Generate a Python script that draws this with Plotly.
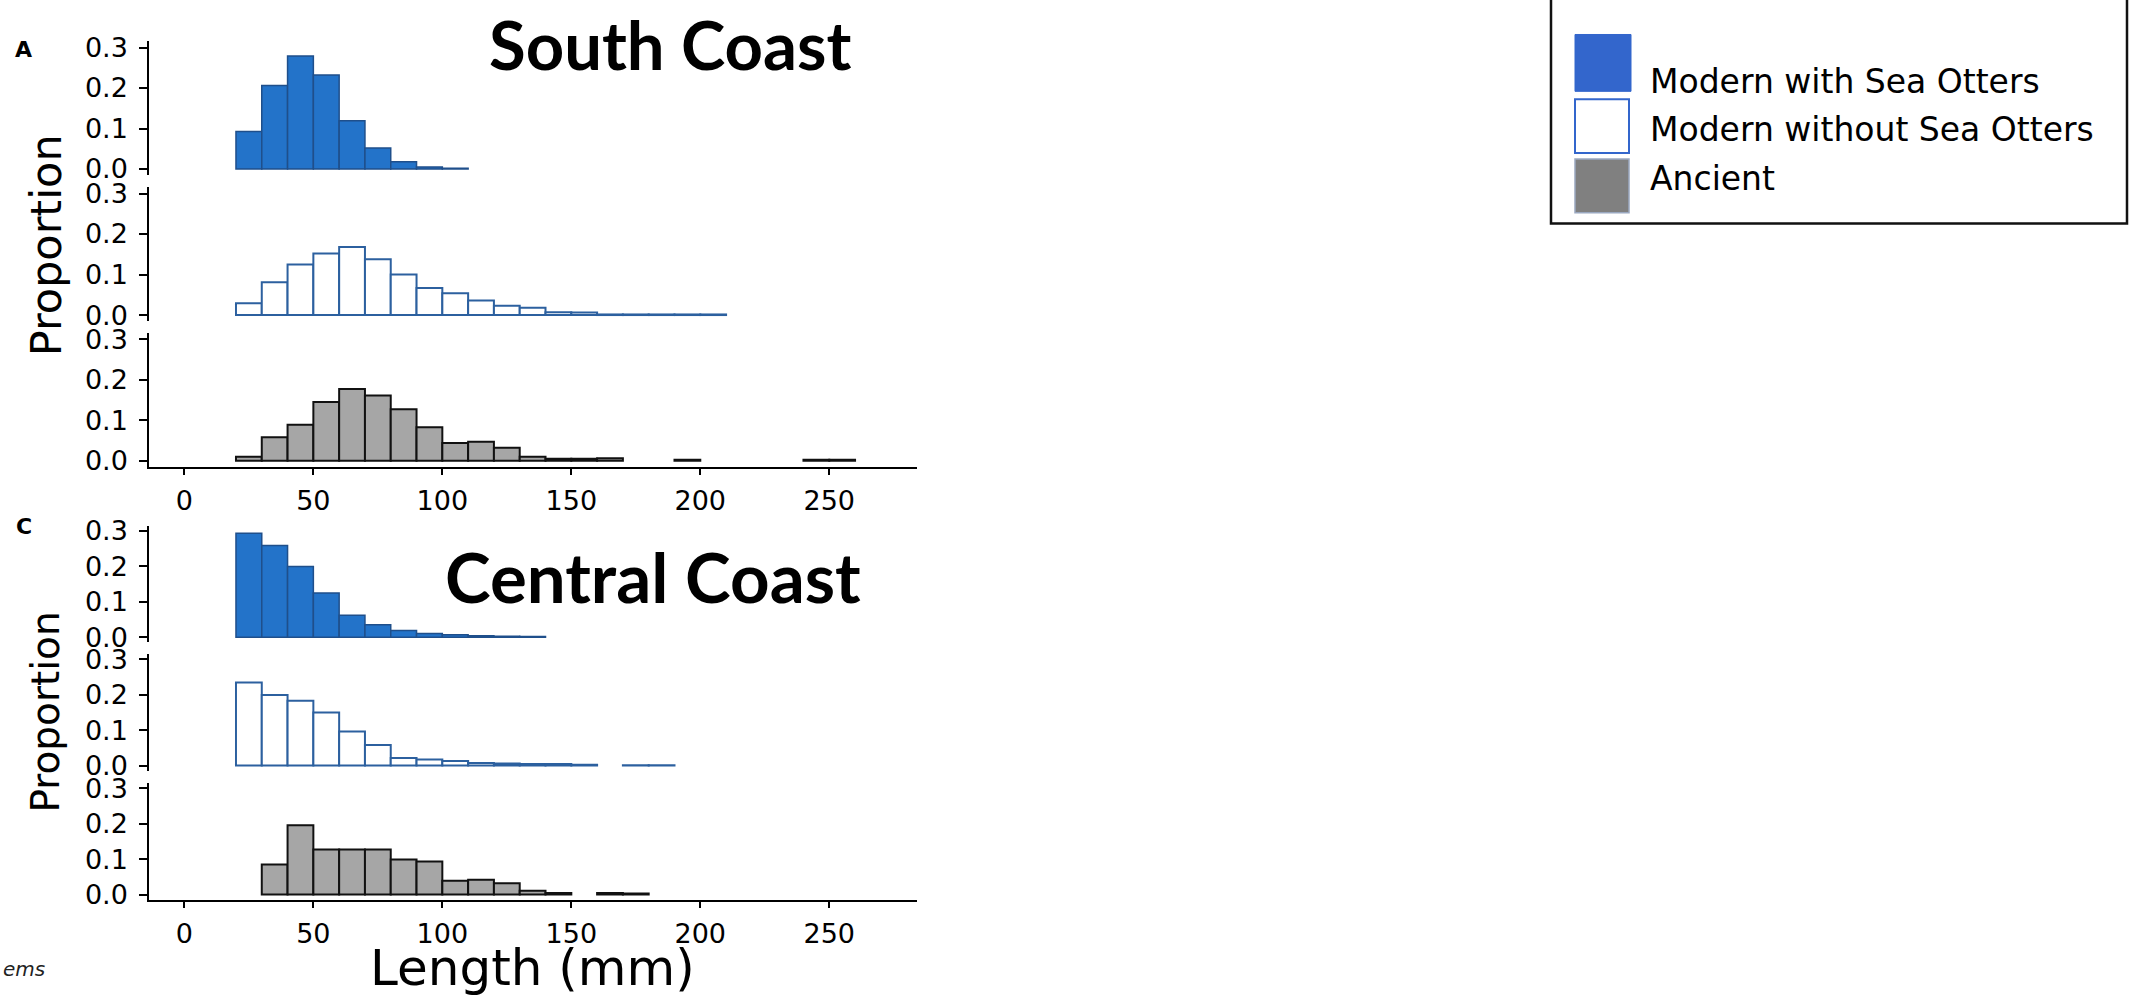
import plotly.graph_objects as go

W, H = 2133, 996

# ---------------- data ----------------
length_ticks = [0, 50, 100, 150, 200, 250]
length_tick_text = ["0", "50", "100", "150", "200", "250"]
prop_ticks = [0.0, 0.1, 0.2, 0.3]
prop_tick_text = ["0.0", "0.1", "0.2", "0.3"]
bin_width = 10

series_names = ["Modern with Sea Otters", "Modern without Sea Otters", "Ancient"]

# South Coast (bin lower edges, mm) and proportions
south_with_bins = [20, 30, 40, 50, 60, 70, 80, 90, 100]
south_with_prop = [0.093, 0.206, 0.279, 0.232, 0.119, 0.052, 0.018, 0.005, 0.002]

south_without_bins = [20, 30, 40, 50, 60, 70, 80, 90, 100, 110, 120, 130, 140, 150,
                      160, 170, 180, 190, 200]
south_without_prop = [0.029, 0.081, 0.125, 0.152, 0.168, 0.138, 0.100, 0.067, 0.054,
                      0.036, 0.023, 0.018, 0.007, 0.006, 0.0015, 0.0015, 0.0015,
                      0.0015, 0.0015]

south_ancient_bins = [20, 30, 40, 50, 60, 70, 80, 90, 100, 110, 120, 130, 140, 150,
                      160, 190, 240, 250]
south_ancient_prop = [0.010, 0.058, 0.089, 0.145, 0.177, 0.161, 0.127, 0.083, 0.044,
                      0.047, 0.032, 0.010, 0.005, 0.005, 0.0065, 0.0024, 0.0024, 0.0024]

# Central Coast
central_with_bins = [20, 30, 40, 50, 60, 70, 80, 90, 100, 110, 120, 130]
central_with_prop = [0.294, 0.259, 0.200, 0.125, 0.062, 0.035, 0.019, 0.010, 0.0065,
                     0.0037, 0.0028, 0.0018]

central_without_bins = [20, 30, 40, 50, 60, 70, 80, 90, 100, 110, 120, 130, 140, 150,
                        170, 180]
central_without_prop = [0.235, 0.199, 0.183, 0.150, 0.096, 0.058, 0.021, 0.017, 0.013,
                        0.0074, 0.0055, 0.0046, 0.0046, 0.0018, 0.001, 0.001]

central_ancient_bins = [30, 40, 50, 60, 70, 80, 90, 100, 110, 120, 130, 140, 160, 170]
central_ancient_prop = [0.085, 0.195, 0.127, 0.127, 0.127, 0.099, 0.093, 0.039, 0.042,
                        0.032, 0.011, 0.0046, 0.0046, 0.0028]

# ---------------- styling ----------------
styles = {
    "with": dict(color="#2373C9", line=dict(color="#1F4F8B", width=1.5)),
    "without": dict(color="#FFFFFF", line=dict(color="#2C609F", width=2)),
    "ancient": dict(color="#A6A6A6", line=dict(color="#111111", width=2)),
}

X_RANGE = [-13.6, 283.9]
Y_RANGE = [-0.015, 0.315]
X_DOM = [149.3 / W, 916.7 / W]


def py(y):
    return 1 - y / H


def px(x):
    return x / W


# panels: (bins, props, style, top_px, bottom_px, show_x_axis)
panels = [
    (south_with_bins, south_with_prop, "with", 32.1, 168.5, False),
    (south_without_bins, south_without_prop, "without", 181.1, 317.5, False),
    (south_ancient_bins, south_ancient_prop, "ancient", 329.8, 466.2, True),
    (central_with_bins, central_with_prop, "with", 526.3, 645.4, False),
    (central_without_bins, central_without_prop, "without", 657.3, 776.4, False),
    (central_ancient_bins, central_ancient_prop, "ancient", 788.6, 908.1, True),
]

fig = go.Figure()
layout_axes = {}
for i, (bins, props, st, top, bot, showx) in enumerate(panels, start=1):
    xa = "x" if i == 1 else f"x{i}"
    ya = "y" if i == 1 else f"y{i}"
    fig.add_trace(go.Bar(
        x=[b + bin_width / 2 for b in bins], y=props, width=bin_width,
        marker=styles[st], xaxis=xa, yaxis=ya, showlegend=False,
        hoverinfo="x+y",
    ))
    xkey = "xaxis" if i == 1 else f"xaxis{i}"
    ykey = "yaxis" if i == 1 else f"yaxis{i}"
    layout_axes[xkey] = dict(
        domain=X_DOM, range=X_RANGE, anchor=ya, showgrid=False, zeroline=False,
        visible=showx, showline=showx, linecolor="black", linewidth=2,
        ticks="outside" if showx else "", ticklen=6, tickwidth=2, tickcolor="black",
        tickvals=length_ticks, ticktext=length_tick_text,
        tickfont=dict(family="DejaVu Sans", size=27, color="black"),
        ticklabelstandoff=3,
    )
    layout_axes[ykey] = dict(
        domain=[py(bot), py(top)], range=Y_RANGE, anchor=xa, showgrid=False,
        zeroline=False, showline=True, linecolor="black", linewidth=2,
        ticks="outside", ticklen=8, tickwidth=2, tickcolor="black",
        tickvals=prop_ticks, ticktext=prop_tick_text,
        tickfont=dict(family="DejaVu Sans", size=27, color="black"),
        ticklabelstandoff=6,
    )

annotations = [
    dict(text="South Coast", x=px(670), y=py(35), font=dict(family="Lato", size=67, color="black", weight="bold")),
    dict(text="Central Coast", x=px(653), y=py(578), font=dict(family="Lato", size=69, color="black", weight="bold")),
    dict(text="A", x=px(23), y=py(40), font=dict(family="DejaVu Sans", size=22, color="black", weight="bold")),
    dict(text="C", x=px(24), y=py(527), font=dict(family="DejaVu Sans", size=22, color="black", weight="bold")),
    dict(text="Proportion", x=px(46), y=py(240), textangle=-90, font=dict(family="DejaVu Sans", size=43, color="black")),
    dict(text="Proportion", x=px(46), y=py(717), textangle=-90, font=dict(family="DejaVu Sans", size=39, color="black")),
    dict(text="Length (mm)", x=px(532), y=py(978), font=dict(family="DejaVu Sans", size=50, color="black")),
    dict(text="ems", x=px(1), y=py(979), xanchor="left", font=dict(family="DejaVu Sans", size=20, color="#222222", style="italic")),
]
leg_y = [73, 122, 172]
for name, yy in zip(series_names, leg_y):
    annotations.append(dict(text=name, x=px(1648), y=py(yy), xanchor="left",
                            font=dict(family="DejaVu Sans", size=33, color="black")))
for a in annotations:
    a.update(xref="paper", yref="paper", showarrow=False)
    a.setdefault("xanchor", "center")
    a.setdefault("yanchor", "middle")

shapes = [
    dict(type="rect", x0=px(1551), x1=px(2127), y0=py(-12), y1=py(218),
         line=dict(color="#111111", width=2.5), fillcolor="rgba(0,0,0,0)"),
    dict(type="rect", x0=px(1575), x1=px(1631), y0=py(83), y1=py(25),
         line=dict(color="#3366CC", width=1), fillcolor="#3366CC"),
    dict(type="rect", x0=px(1575), x1=px(1629), y0=py(146), y1=py(91),
         line=dict(color="#3366CC", width=2), fillcolor="#FFFFFF"),
    dict(type="rect", x0=px(1575), x1=px(1629), y0=py(207), y1=py(152),
         line=dict(color="#9AA8C0", width=1.5), fillcolor="#808080"),
]
for s in shapes:
    s.update(xref="paper", yref="paper")

fig.update_layout(
    width=W, height=H, autosize=False,
    margin=dict(l=0, r=0, t=0, b=0),
    paper_bgcolor="white", plot_bgcolor="white",
    barmode="overlay", showlegend=False,
    annotations=annotations, shapes=shapes,
    **layout_axes,
)

fig.write_html(
    "out.html",
    config={"displayModeBar": False},
    post_script="document.body.style.margin='0';document.body.style.overflow='hidden';",
)
